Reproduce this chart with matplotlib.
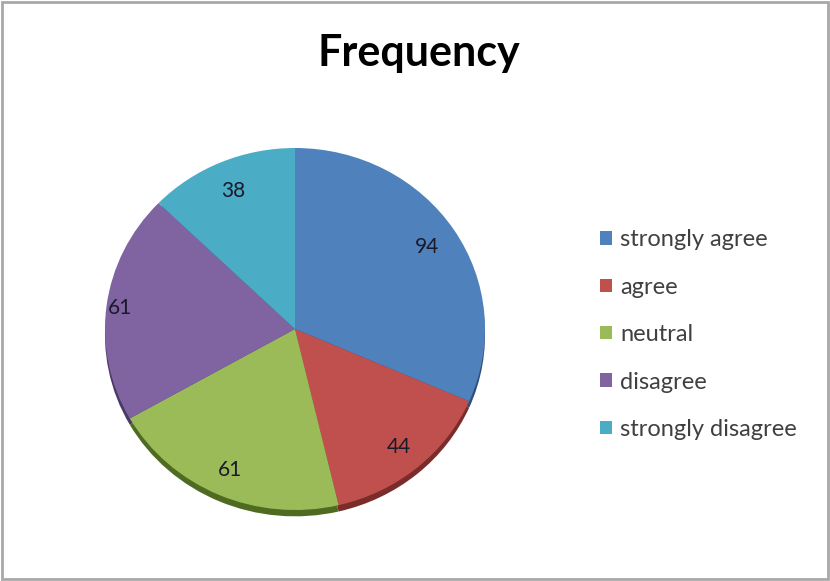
import numpy as np
import matplotlib
matplotlib.use('Agg')
import matplotlib.pyplot as plt
from matplotlib.patches import Rectangle

# datos de la grafica
categorias = ['strongly agree', 'agree', 'neutral', 'disagree', 'strongly disagree']
frecuencia = [94, 44, 61, 61, 38]
colores = ['#4F81BD', '#C0504D', '#9BBB59', '#8064A2', '#4BACC6']
colores_sombra = ['#2E4F78', '#7A2C2A', '#4F6B22', '#4B3A66', '#2A6D80']
# distancia de cada etiqueta al centro (fraccion del radio)
distancias = [0.83, 0.85, 0.85, 0.93, 0.83]

plt.rcParams['font.family'] = ['Lato', 'DejaVu Sans']

fig = plt.figure(figsize=(8.3, 5.81), dpi=100)
W, H = 830, 581

# borde del grafico
fig.patches.append(Rectangle((0.003, 0.004), 0.994, 0.992, transform=fig.transFigure,
                             fill=False, edgecolor='#a8a8a8', lw=2))

# ejes del pastel (centro y radios en pixeles)
cx, cy, rx, ry = 295, 329, 190, 181
ax = fig.add_axes([(cx - rx) / W, (H - cy - ry) / H, 2 * rx / W, 2 * ry / H])

# sombra / borde inferior
ax.pie(frecuencia, colors=colores_sombra, startangle=90, counterclock=False,
       radius=1.0, center=(0, -0.035))

wedges, textos = ax.pie(frecuencia, colors=colores, startangle=90,
                        counterclock=False, radius=1.0)

for w, v, d in zip(wedges, frecuencia, distancias):
    ang = np.deg2rad((w.theta1 + w.theta2) / 2)
    ax.text(d * np.cos(ang), d * np.sin(ang), str(v), ha='center', va='center',
            fontsize=15, color='#1a1a2a')

ax.set_xlim(-1, 1)
ax.set_ylim(-1, 1)
ax.set_aspect('auto')
ax.axis('off')

fig.text(419 / W, 1 - 53 / H, 'Frequency', ha='center', va='center',
         fontsize=31, fontweight='bold', color='black')

fig.legend(wedges, categorias, loc='upper left', bbox_to_anchor=(579 / W, 1 - 208 / H),
           frameon=False, fontsize=17, handlelength=0.5, handleheight=0.5,
           handletextpad=0.35, labelspacing=1.12, labelcolor='#404040')

fig.savefig('out.png', dpi=100)
